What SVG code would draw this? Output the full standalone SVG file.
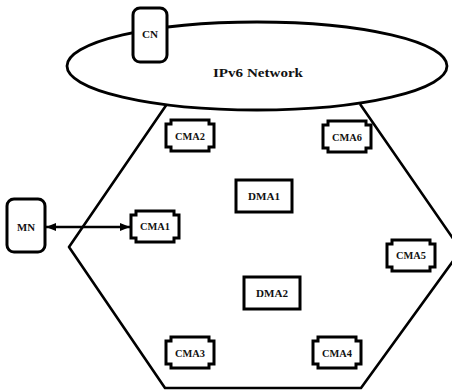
<svg xmlns="http://www.w3.org/2000/svg" xmlns:xlink="http://www.w3.org/1999/xlink" width="452" height="390" viewBox="0 0 452 390">
<style>
.ln{fill:none;stroke:#000;stroke-width:2.6;stroke-linejoin:round}
.box{fill:#fff;stroke:#000;stroke-width:3;stroke-linejoin:miter}
.rbox{fill:#fff;stroke:#000;stroke-width:3}
.lbl{font-family:"Liberation Serif","Times New Roman",serif;font-weight:bold;font-size:9.5px;fill:#111;text-anchor:middle}
.big{font-size:12px}
.conn{stroke:#000;stroke-width:2.4;fill:none}
</style>
<defs>
<path id="cma" d="M5,0 H43 V4 H48 V27 H43 V31 H5 V27 H0 V4 H5 Z"/>
<marker id="ah" viewBox="0 0 10 8" refX="10" refY="4" markerWidth="10" markerHeight="8" markerUnits="userSpaceOnUse" orient="auto-start-reverse">
<path d="M0,0 L10,4 L0,8 Z" fill="#000"/>
</marker>
</defs>
<g id="domain">
<polyline class="ln" points="167,104 69,247 165,388 361,388 461,250 360,104"/>
</g>
<g id="ipv6">
<ellipse cx="257" cy="66" rx="190" ry="44" fill="#fff" stroke="#000" stroke-width="2.8"/>
<text class="lbl big" x="258" y="77" textLength="90" lengthAdjust="spacingAndGlyphs">IPv6 Network</text>
</g>
<g id="CN">
<rect class="rbox" x="133" y="8" width="34" height="54" rx="7"/>
<text class="lbl" x="150" y="38" textLength="16" lengthAdjust="spacingAndGlyphs">CN</text>
</g>
<g id="MN">
<rect class="rbox" x="7" y="199" width="38" height="53" rx="7"/>
<text class="lbl" x="26" y="231" textLength="18" lengthAdjust="spacingAndGlyphs">MN</text>
</g>
<g id="CMA1">
<use xlink:href="#cma" class="box" x="131" y="211"/>
<text class="lbl" x="155" y="230" textLength="30" lengthAdjust="spacingAndGlyphs">CMA1</text>
</g>
<g id="CMA2">
<use xlink:href="#cma" class="box" x="166" y="120"/>
<text class="lbl" x="190" y="140" textLength="30" lengthAdjust="spacingAndGlyphs">CMA2</text>
</g>
<g id="CMA6">
<use xlink:href="#cma" class="box" x="323" y="121"/>
<text class="lbl" x="347" y="141" textLength="30" lengthAdjust="spacingAndGlyphs">CMA6</text>
</g>
<g id="CMA5">
<use xlink:href="#cma" class="box" x="387" y="240"/>
<text class="lbl" x="411" y="259" textLength="30" lengthAdjust="spacingAndGlyphs">CMA5</text>
</g>
<g id="CMA3">
<use xlink:href="#cma" class="box" x="166" y="337"/>
<text class="lbl" x="190" y="357" textLength="30" lengthAdjust="spacingAndGlyphs">CMA3</text>
</g>
<g id="CMA4">
<use xlink:href="#cma" class="box" x="313" y="337"/>
<text class="lbl" x="337" y="357" textLength="30" lengthAdjust="spacingAndGlyphs">CMA4</text>
</g>
<g id="DMA1">
<rect class="rbox" x="236" y="180" width="56" height="32"/>
<text class="lbl" x="264" y="200" textLength="32" lengthAdjust="spacingAndGlyphs">DMA1</text>
</g>
<g id="DMA2">
<rect class="rbox" x="244" y="277" width="56" height="32"/>
<text class="lbl" x="272" y="297" textLength="32" lengthAdjust="spacingAndGlyphs">DMA2</text>
</g>
<g id="connectors">
<line class="conn" x1="46" y1="227" x2="130" y2="227" marker-start="url(#ah)" marker-end="url(#ah)"/>
</g>
</svg>
